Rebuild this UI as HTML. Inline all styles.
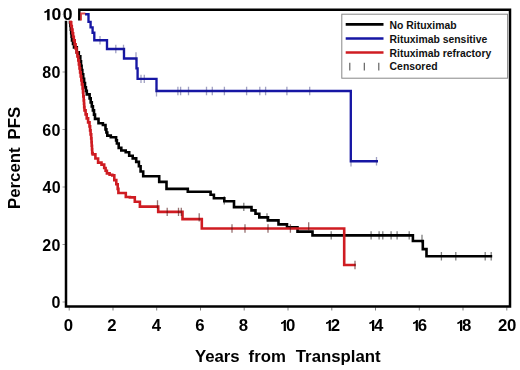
<!DOCTYPE html>
<html><head><meta charset="utf-8"><style>
html,body{margin:0;padding:0;background:#fff;}
svg{display:block;filter:blur(0.3px);}
.t{font:bold 16px "Liberation Sans",sans-serif;fill:#000;}
.a{font:bold 16.8px "Liberation Sans",sans-serif;fill:#000;}
.l{font:bold 10.4px "Liberation Sans",sans-serif;fill:#111;}
</style></head><body>
<svg width="520" height="370" viewBox="0 0 520 370">
<path d="M66.0 20.5V306.5H510V9.8H79.3V20.4" fill="none" stroke="#000" stroke-width="2.5"/>
<path d="M69.2 307.3V310.5M113.0 307.3V310.5M156.7 307.3V310.5M200.5 307.3V310.5M244.2 307.3V310.5M288.0 307.3V310.5M331.8 307.3V310.5M375.5 307.3V310.5M419.3 307.3V310.5M463.0 307.3V310.5M506.8 307.3V310.5" stroke="#000" stroke-width="1" opacity="0.5"/>
<path d="M62.5 14.5H65M62.5 72.0H65M62.5 129.5H65M62.5 187.0H65M62.5 244.5H65M62.5 302.0H65" stroke="#000" stroke-width="1" opacity="0.4"/>
<g transform="translate(0 0.4)">
<polyline points="85.0,13.9 88.5,13.9 88.5,21.5 90.6,21.5 90.6,27.0 92.6,27.0 92.6,32.3 94.3,32.3 94.3,39.8 107.0,39.8 107.0,48.6 124.0,48.6 124.0,58.1 136.5,58.1 136.5,68.0 137.6,68.0 137.6,78.5 156.5,78.5 156.5,90.6 350.8,90.6 350.8,160.8 378.0,160.8" fill="none" stroke="#1616a4" stroke-width="2.35" stroke-linejoin="miter" stroke-linecap="butt"/>
<path d="M100.0 35.6V44.0M115.8 44.4V52.8M123.5 44.4V52.8M136.0 51.8V60.2M141.0 74.3V82.7M144.3 74.3V82.7M156.5 87.8V96.2M177.9 86.4V94.8M180.6 86.4V94.8M188.5 86.4V94.8M206.5 86.4V94.8M212.3 86.4V94.8M224.4 86.4V94.8M246.6 86.4V94.8M259.8 86.4V94.8M265.6 86.4V94.8M286.9 86.4V94.8M309.7 86.4V94.8M351.0 157.8V166.2M376.5 156.6V165.0" stroke="#202070" stroke-width="1.3" opacity="0.42" fill="none"/>
<polyline points="69.2,14.5 69.6,14.5 69.6,18.2 70.0,18.2 70.0,22.0 70.4,22.0 70.4,25.6 70.8,25.6 70.8,29.2 71.2,29.2 71.2,32.8 71.6,32.8 71.6,36.4 72.0,36.4 72.0,40.0 73.0,40.0 73.0,43.5 74.0,43.5 74.0,47.0 76.8,47.0 76.8,52.0 78.8,52.0 78.8,56.0 80.3,56.0 80.3,61.0 81.0,61.0 81.0,65.3 81.6,65.3 81.6,69.7 82.3,69.7 82.3,74.0 83.2,74.0 83.2,78.3 84.1,78.3 84.1,82.7 85.0,82.7 85.0,87.0 85.9,87.0 85.9,90.5 86.8,90.5 86.8,94.0 89.6,94.0 89.6,98.0 90.7,98.0 90.7,102.0 91.8,102.0 91.8,106.0 92.9,106.0 92.9,110.0 94.0,110.0 94.0,114.2 95.0,114.2 95.0,118.5 98.5,118.5 98.5,122.9 102.9,122.9 102.9,124.6 105.5,124.6 105.5,129.0 106.4,129.0 106.4,132.1 107.3,132.1 107.3,135.2 110.8,135.2 110.8,136.9 115.2,136.9 116.1,136.9 116.1,140.0 116.9,140.0 116.9,143.1 118.7,143.1 118.7,147.5 121.3,147.5 121.3,150.1 125.7,150.1 125.7,151.8 129.2,151.8 129.2,155.4 132.7,155.4 132.7,158.0 136.2,158.0 136.2,161.5 138.9,161.5 138.9,165.9 140.6,165.9 140.6,171.1 143.2,171.1 143.2,175.8 159.2,175.8 159.2,181.5 166.5,181.5 166.5,188.5 187.8,188.5 187.8,191.3 210.6,191.3 210.6,194.4 213.9,194.4 213.9,197.9 224.3,197.9 224.3,200.8 234.0,200.8 234.0,206.7 251.5,206.7 251.5,210.0 255.5,210.0 255.5,213.3 259.3,213.3 259.3,217.0 268.0,217.0 268.0,220.0 278.5,220.0 278.5,224.0 287.0,224.0 287.0,226.8 297.5,226.8 297.5,231.2 312.5,231.2 312.5,235.0 412.9,235.0 412.9,240.6 422.8,240.6 422.8,248.7 426.5,248.7 426.5,255.9 492.2,255.9" fill="none" stroke="#000" stroke-width="2.6" stroke-linejoin="miter" stroke-linecap="butt"/>
<path d="M224.3 195.8V204.2M243.8 202.3V210.7M267.0 212.8V221.2M331.2 230.8V239.2M371.1 230.8V239.2M379.1 230.8V239.2M382.8 230.8V239.2M391.1 230.8V239.2M397.1 230.8V239.2M409.2 230.8V239.2M422.0 234.4V242.8M441.4 251.7V260.1M455.8 251.7V260.1M485.2 251.7V260.1M491.2 251.7V260.1" stroke="#000" stroke-width="1.3" opacity="0.5" fill="none"/>
<polyline points="69.2,14.5 69.8,14.5 69.8,18.2 70.5,18.2 70.5,22.0 71.2,22.0 71.2,25.6 71.8,25.6 71.8,29.2 72.5,29.2 72.5,32.8 73.1,32.8 73.1,36.4 73.8,36.4 73.8,40.0 74.7,40.0 74.7,44.0 75.6,44.0 75.6,48.0 76.5,48.0 76.5,52.0 77.4,52.0 77.4,56.0 78.3,56.0 78.3,60.0 78.9,60.0 78.9,64.0 79.5,64.0 79.5,68.0 80.1,68.0 80.1,72.0 80.7,72.0 80.7,76.0 81.3,76.0 81.3,80.0 81.9,80.0 81.9,84.0 82.6,84.0 82.6,88.0 83.0,88.0 83.0,92.0 83.3,92.0 83.3,96.0 83.7,96.0 83.7,100.0 84.0,100.0 84.0,103.3 84.2,103.3 84.2,106.7 84.5,106.7 84.5,110.0 85.6,110.0 85.6,114.0 86.7,114.0 86.7,118.0 88.1,118.0 88.1,122.0 89.5,122.0 89.5,126.0 90.1,126.0 90.1,130.0 90.6,130.0 90.6,134.0 91.2,134.0 91.2,138.0 91.5,138.0 91.5,141.7 91.7,141.7 91.7,145.3 92.0,145.3 92.0,149.0 92.2,149.0 92.2,152.7 92.7,152.7 92.7,154.0 95.4,154.0 95.4,158.1 98.1,158.1 98.1,162.2 101.5,162.2 101.5,164.2 104.2,164.2 104.2,167.6 105.6,167.6 105.6,170.3 106.9,170.3 106.9,173.0 109.6,173.0 109.6,174.3 112.3,174.3 112.3,175.0 114.3,175.0 114.3,179.7 116.3,179.7 116.3,183.8 117.7,183.8 117.7,188.5 118.4,188.5 118.4,192.6 121.7,192.6 125.8,192.6 125.8,196.6 129.9,196.6 129.9,197.0 134.8,197.0 134.8,201.3 139.9,201.3 139.9,206.2 158.2,206.2 158.2,211.5 182.5,211.5 182.5,218.7 201.8,218.7 201.8,228.1 344.2,228.1 344.2,264.6 355.8,264.6" fill="none" stroke="#cf1c22" stroke-width="2.6" stroke-linejoin="miter" stroke-linecap="butt"/>
<path d="M157.5 199.8V208.2M167.2 207.3V215.7M178.5 207.3V215.7M181.3 207.3V215.7M199.2 212.8V221.2M232.0 223.9V232.3M245.0 223.9V232.3M268.0 223.9V232.3M290.4 223.9V232.3M308.7 221.8V230.2M355.0 260.4V268.8" stroke="#501010" stroke-width="1.3" opacity="0.6" fill="none"/>
</g>
<path d="M81 20.4V13.5H85.4" fill="none" stroke="#cf1c22" stroke-width="2" opacity="0.8"/>
<rect x="62.6" y="7" width="11" height="13.6" fill="#fff"/>
<text x="42.34" y="78.20" style="font-size:16px" class="t">8</text>
<text x="51.51" y="78.20" style="font-size:16px" class="t">0</text>
<text x="42.26" y="135.70" style="font-size:16px" class="t">6</text>
<text x="51.51" y="135.70" style="font-size:16px" class="t">0</text>
<text x="42.61" y="193.20" style="font-size:16px" class="t">4</text>
<text x="51.71" y="193.20" style="font-size:16px" class="t">0</text>
<text x="42.19" y="250.70" style="font-size:16px" class="t">2</text>
<text x="51.51" y="250.70" style="font-size:16px" class="t">0</text>
<text x="51.41" y="308.20" style="font-size:16px" class="t">0</text>
<path d="M47.10 20.20H49.60V8.90H47.60C47.30 10.00 46.10 10.90 44.40 11.20V12.90C45.60 12.80 46.50 12.40 47.10 11.90Z" fill="#000"/>
<text transform="translate(51.45 20.20) scale(1.1 1)" style="font-size:16px" class="t">0</text>
<text transform="translate(62.75 20.20) scale(1.1 1)" style="font-size:16px" class="t">0</text>
<text transform="translate(63.78 331.10) scale(1.07 1)" style="font-size:15.7px" class="t">0</text>
<text transform="translate(107.16 331.10) scale(1.07 1)" style="font-size:15.7px" class="t">2</text>
<text transform="translate(151.70 331.10) scale(1.07 1)" style="font-size:15.7px" class="t">4</text>
<text transform="translate(195.23 331.10) scale(1.07 1)" style="font-size:15.7px" class="t">6</text>
<text transform="translate(238.71 331.10) scale(1.07 1)" style="font-size:15.7px" class="t">8</text>
<path d="M283.70 331.10H285.90V320.10H284.20C283.90 321.20 282.70 322.10 281.00 322.40V324.10C282.20 324.00 283.10 323.60 283.70 323.10Z" fill="#000"/>
<text transform="translate(285.88 331.10) scale(1.07 1)" style="font-size:15.7px" class="t">0</text>
<path d="M328.70 331.10H330.90V320.10H329.20C328.90 321.20 327.70 322.10 326.00 322.40V324.10C327.20 324.00 328.10 323.60 328.70 323.10Z" fill="#000"/>
<text transform="translate(330.66 331.10) scale(1.07 1)" style="font-size:15.7px" class="t">2</text>
<path d="M372.00 331.10H374.20V320.10H372.50C372.20 321.20 371.00 322.10 369.30 322.40V324.10C370.50 324.00 371.40 323.60 372.00 323.10Z" fill="#000"/>
<text transform="translate(374.00 331.10) scale(1.07 1)" style="font-size:15.7px" class="t">4</text>
<path d="M415.70 331.10H417.90V320.10H416.20C415.90 321.20 414.70 322.10 413.00 322.40V324.10C414.20 324.00 415.10 323.60 415.70 323.10Z" fill="#000"/>
<text transform="translate(417.83 331.10) scale(1.07 1)" style="font-size:15.7px" class="t">6</text>
<path d="M460.00 331.10H462.20V320.10H460.50C460.20 321.20 459.00 322.10 457.30 322.40V324.10C458.50 324.00 459.40 323.60 460.00 323.10Z" fill="#000"/>
<text transform="translate(461.91 331.10) scale(1.07 1)" style="font-size:15.7px" class="t">8</text>
<text transform="translate(498.06 331.10) scale(1.07 1)" style="font-size:15.7px" class="t">2</text>
<text transform="translate(506.98 331.10) scale(1.07 1)" style="font-size:15.7px" class="t">0</text>
<text y="361.9" class="a"><tspan x="194.9">Years</tspan><tspan x="248.6">from</tspan><tspan x="295.8">Transplant</tspan></text>
<text transform="translate(19.6 0) rotate(-90)" class="a"><tspan x="-209.0">Percent</tspan><tspan x="-139.5">PFS</tspan></text>
<rect x="341.8" y="14.2" width="165.8" height="64" fill="#fff" stroke="#888" stroke-width="1"/>
<path d="M345.7 24.4H383.5" stroke="#000" stroke-width="2.6"/>
<path d="M345.7 38.5H383.5" stroke="#1616a4" stroke-width="2.6"/>
<path d="M345.7 52.5H383.5" stroke="#cf1c22" stroke-width="2.6"/>
<path d="M349.8 62.7V70.4M364.3 62.7V70.4M378.8 62.7V70.4" stroke="#555" stroke-width="1.1"/>
<text x="389.6" y="29.0" class="l">No Rituximab</text>
<text x="389.6" y="42.8" class="l">Rituximab sensitive</text>
<text x="389.6" y="56.5" class="l">Rituximab refractory</text>
<text x="389.6" y="70.3" class="l">Censored</text>
</svg>
</body></html>
